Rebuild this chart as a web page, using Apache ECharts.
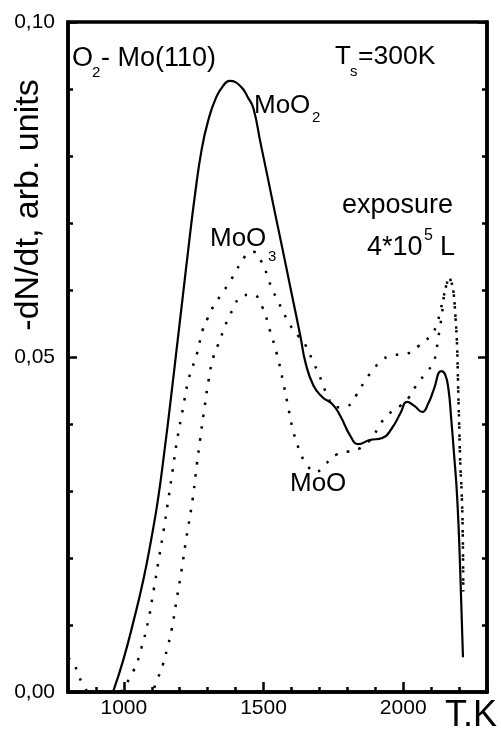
<!DOCTYPE html>
<html><head><meta charset="utf-8">
<script src="https://cdn.jsdelivr.net/npm/echarts@6/dist/echarts.min.js"></script>
<style>html,body{margin:0;padding:0;background:#fff}#c{width:501px;height:731px}</style>
</head><body><div id="c"></div>
<script>
// MoO2 (solid)
const moo2T = [961,998,1036,1070,1098,1122,1146,1168,1189,1210,1231,1253,1279,1304,1329,1354,1379,1418,1446,1464,1489,1514,1540,1568,1600,1632,1650,1679,1711,1746,1775,1811,1839,1880,1925,1960,1990,2014,2040,2068,2090,2110,2136,2150,2162,2172,2182,2193,2204,2214];
const moo2V = [0,0.0048,0.0108,0.0168,0.0228,0.0287,0.0362,0.0437,0.0512,0.0587,0.0662,0.0737,0.0811,0.0856,0.0886,0.0904,0.0912,0.0904,0.0886,0.0871,0.0820,0.0770,0.0717,0.0661,0.0596,0.0531,0.0492,0.0457,0.0440,0.0430,0.0412,0.0382,0.0370,0.0376,0.0379,0.0394,0.0416,0.0433,0.0427,0.0418,0.0431,0.0452,0.0479,0.0474,0.0452,0.0407,0.0355,0.0292,0.0183,0.0052];
// MoO3 (upper dotted)
const moo3T = [990,1036,1061,1088,1107,1125,1143,1159,1175,1191,1211,1232,1261,1282,1300,1321,1350,1379,1404,1429,1464,1493,1514,1529,1550,1571,1593,1625,1654,1675,1693,1711,1729,1757,1800,1832,1861,1889,1929,1971,2014,2054,2096,2118,2132,2143,2154,2164,2172,2179,2186,2193,2196,2200,2204,2209,2213,2215];
const moo3V = [0,0.0033,0.0063,0.0108,0.0153,0.0198,0.0243,0.0287,0.0332,0.0377,0.0422,0.0467,0.0504,0.0540,0.0558,0.0576,0.0594,0.0612,0.0630,0.0648,0.0657,0.0642,0.0621,0.0603,0.0585,0.0567,0.0549,0.0531,0.0515,0.0495,0.0479,0.0461,0.0442,0.0425,0.0427,0.0443,0.0463,0.0479,0.0497,0.0503,0.0505,0.0516,0.0531,0.0546,0.0567,0.0587,0.0605,0.0618,0.0612,0.0600,0.0567,0.0515,0.0465,0.0405,0.0345,0.0300,0.0240,0.0150];
// MoO (lower dotted)
const mooT = [800,818,836,857,880,1090,1118,1139,1154,1171,1189,1207,1223,1246,1259,1273,1288,1304,1321,1338,1354,1371,1393,1421,1461,1495,1521,1548,1568,1586,1605,1630,1654,1686,1721,1764,1804,1846,1889,1914,1943,1989,2021,2046,2075,2107,2118,2125,2132,2139,2143,2150,2164,2172,2179,2186,2193,2196,2200,2204,2209,2213,2215];
const mooV = [0.0050,0.0045,0.0027,0.0009,0,0,0.0018,0.0040,0.0063,0.0093,0.0138,0.0183,0.0228,0.0287,0.0332,0.0377,0.0422,0.0467,0.0501,0.0519,0.0537,0.0555,0.0573,0.0591,0.0593,0.0575,0.0542,0.0504,0.0467,0.0430,0.0392,0.0359,0.0340,0.0328,0.0340,0.0355,0.0359,0.0364,0.0380,0.0397,0.0413,0.0427,0.0440,0.0457,0.0473,0.0491,0.0509,0.0527,0.0545,0.0564,0.0582,0.0599,0.0618,0.0612,0.0600,0.0567,0.0515,0.0465,0.0405,0.0345,0.0300,0.0240,0.0150];

const xTicks = [1000, 1500, 2000];
const xMin = 800, xMax = 2300, xMinorStep = 100;
const yMin = 0, yMax = 0.10, yStep = 0.05;

const FF = "'Liberation Sans', Arial, sans-serif";
const zip = (a, b) => a.map((t, i) => [t, b[i]]);

function txt(x, baseline, size, s, extra) {
  return Object.assign({
    type: 'text', x: x, y: baseline - 0.35 * size, z: 100,
    style: { text: s, fill: '#000', font: size + 'px ' + FF, textAlign: 'left', textVerticalAlign: 'middle' }
  }, extra || {});
}

const chart = echarts.init(document.getElementById('c'), null, { renderer: 'canvas' });
const black = '#000';
const dotted = { color: black, width: 2.5, type: [2.5, 9.5] };
chart.setOption({
  animation: false,
  backgroundColor: '#fff',
  grid: { left: 68, right: 14, top: 22, bottom: 39, show: true, borderColor: black, borderWidth: 3.5, backgroundColor: 'transparent' },
  xAxis: [
    { type: 'value', min: xMin, max: xMax, position: 'bottom',
      axisLine: { show: true, lineStyle: { color: black, width: 3.5 } },
      axisTick: { show: true, inside: true, length: 10, customValues: xTicks, lineStyle: { color: black, width: 2.5 } },
      axisLabel: { show: true, customValues: xTicks, color: black, fontSize: 21, fontFamily: FF, margin: 6, formatter: v => String(v) },
      splitLine: { show: false } },
    { type: 'value', min: xMin, max: xMax, interval: xMinorStep, position: 'bottom',
      axisLine: { show: false },
      axisTick: { show: true, inside: true, length: 5, lineStyle: { color: black, width: 2.5 } },
      axisLabel: { show: false }, splitLine: { show: false } }
  ],
  yAxis: [
    { type: 'value', min: yMin, max: yMax, interval: yStep, position: 'left',
      axisLine: { show: true, lineStyle: { color: black, width: 3.5 } },
      axisTick: { show: true, inside: true, length: 9, lineStyle: { color: black, width: 2.5 } },
      minorTick: { show: true, splitNumber: 5, length: 5, lineStyle: { color: black, width: 2.5 } },
      axisLabel: { color: black, fontSize: 21, fontFamily: FF, margin: 13, formatter: v => v.toFixed(2).replace('.', ',') },
      splitLine: { show: false } },
    { type: 'value', min: yMin, max: yMax, interval: yStep, position: 'right',
      axisLine: { show: true, lineStyle: { color: black, width: 3.5 } },
      axisTick: { show: true, inside: true, length: 9, lineStyle: { color: black, width: 2.5 } },
      minorTick: { show: true, splitNumber: 5, length: 5, lineStyle: { color: black, width: 2.5 } },
      axisLabel: { show: false }, splitLine: { show: false } }
  ],
  series: [
    { name: 'MoO2', type: 'line', data: zip(moo2T, moo2V), showSymbol: false, smooth: 0.5,
      lineStyle: { color: black, width: 2.2 } },
    { name: 'MoO3', type: 'line', data: zip(moo3T, moo3V), showSymbol: false, smooth: 0.5,
      lineStyle: dotted },
    { name: 'MoO', type: 'line', data: zip(mooT, mooV), showSymbol: false, smooth: 0.5,
      lineStyle: dotted }
  ],
  graphic: [
    txt(72, 68, 27, 'O'),
    txt(92, 78, 15, '2'),
    txt(101, 68, 27, '- Mo(110)'),
    txt(335, 66, 26, 'T'),
    txt(350, 77, 15, 's'),
    txt(358, 66, 26.5, '=300K'),
    txt(254, 115, 26, 'MoO'),
    txt(312, 123, 15, '2'),
    txt(210, 248, 26, 'MoO'),
    txt(268, 262, 15, '3'),
    txt(290, 493, 26, 'MoO'),
    txt(342, 215, 27, 'exposure'),
    txt(367, 257, 27, '4*10'),
    txt(424, 241, 16, '5'),
    txt(440, 257, 27, 'L'),
    txt(445, 729, 36, 'T.K'),
    { type: 'text', x: 29, y: 205, rotation: Math.PI / 2, z: 100,
      style: { text: '-dN/dt, arb. units', fill: black, font: '34px ' + FF, textAlign: 'center', textVerticalAlign: 'middle' } }
  ]
});
</script></body></html>
